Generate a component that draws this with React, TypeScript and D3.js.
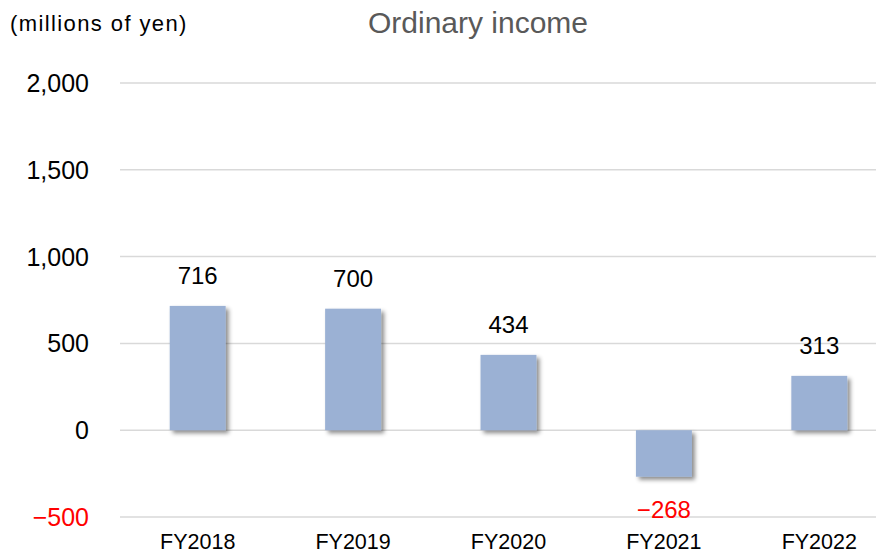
import React from 'react'
import * as d3 from 'd3'

// data
const years = ['FY2018', 'FY2019', 'FY2020', 'FY2021', 'FY2022']
const income = [716, 700, 434, -268, 313]
const yTicks = [-500, 0, 500, 1000, 1500, 2000]

const W = 876
const H = 555
const font = 'Liberation Sans, Arial, sans-serif'

const App = () => {
  const x = d3.scaleBand<string>().domain(years).range([120, 897]).paddingInner(0.64).paddingOuter(0.32)
  const y = d3.scaleLinear().domain([-500, 2000]).range([517, 83])

  const fmt = (v: number) => (v < 0 ? '\u2212' + d3.format(',')(-v) : d3.format(',')(v))

  return (
    <svg width={W} height={H} style={{ position: 'absolute', left: 0, top: 0 }}>
      <defs>
        <filter id="shadow" x="-30%" y="-30%" width="160%" height="160%">
          <feDropShadow dx="3" dy="3" stdDeviation="2" floodColor="#000" floodOpacity="0.45" />
        </filter>
      </defs>
      <rect width={W} height={H} fill="#fff" />

      <text x={10} y={31} fontSize={22} letterSpacing={1.4} fontFamily={font} fill="#000">
        (millions of yen)
      </text>
      <text x={478} y={33} textAnchor="middle" fontSize={30} fontFamily={font} fill="#595959">
        Ordinary income
      </text>

      {yTicks.map(t => (
        <g key={t}>
          <line x1={120} x2={W} y1={y(t)} y2={y(t)} stroke="#d9d9d9" strokeWidth={1.5} />
          <text
            x={89}
            y={y(t)}
            dy="0.36em"
            textAnchor="end"
            fontSize={25}
            fontFamily={font}
            fill={t < 0 ? '#ff0000' : '#000'}
          >
            {fmt(t)}
          </text>
        </g>
      ))}

      {years.map((yr, i) => {
        const v = income[i]
        const top = Math.min(y(v), y(0))
        const h = Math.abs(y(v) - y(0))
        const cx = (x(yr) ?? 0) + x.bandwidth() / 2
        return (
          <g key={yr}>
            <rect x={x(yr)} y={top} width={x.bandwidth()} height={h} fill="#9bb1d4" filter="url(#shadow)" />
            <text
              x={cx}
              y={v >= 0 ? y(v) - 22 : y(v) + 41}
              textAnchor="middle"
              fontSize={24}
              fontFamily={font}
              fill={v < 0 ? '#ff0000' : '#000'}
            >
              {fmt(v)}
            </text>
            <text x={cx} y={549} textAnchor="middle" fontSize={21.5} fontFamily={font} fill="#000">
              {yr}
            </text>
          </g>
        )
      })}
    </svg>
  )
}

export default App
